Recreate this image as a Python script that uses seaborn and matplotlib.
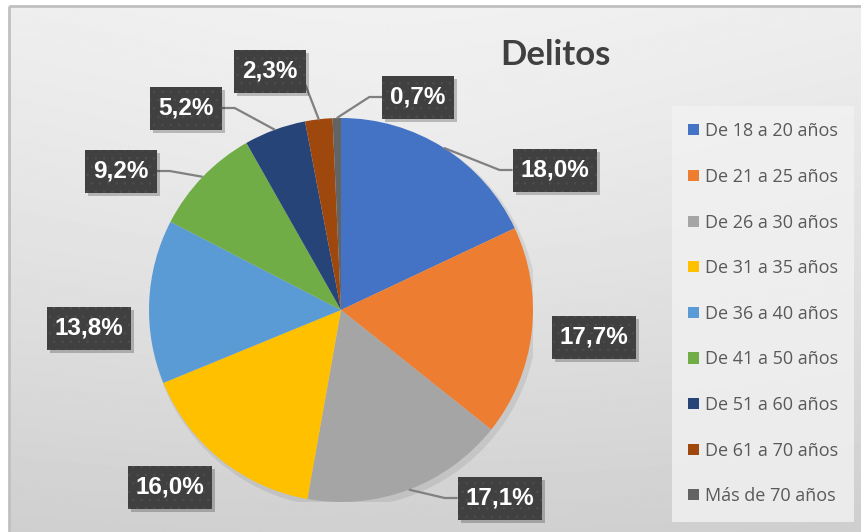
import numpy as np
import matplotlib
matplotlib.use("Agg")
import matplotlib.pyplot as plt
from matplotlib.patches import Rectangle, Circle
import seaborn as sns

categories = ["De 18 a 20 años", "De 21 a 25 años", "De 26 a 30 años",
              "De 31 a 35 años", "De 36 a 40 años", "De 41 a 50 años",
              "De 51 a 60 años", "De 61 a 70 años", "Más de 70 años"]
values = [18.0, 17.7, 17.1, 16.0, 13.8, 9.2, 5.2, 2.3, 0.7]
pct_labels = ["18,0%", "17,7%", "17,1%", "16,0%", "13,8%", "9,2%", "5,2%", "2,3%", "0,7%"]
colors = ["#4472C4", "#ED7D31", "#A5A5A5", "#FFC000", "#5B9BD5",
          "#70AD47", "#264478", "#9E480E", "#636363"]

# where the label boxes sit (pixel centres, y from top) - layout only
label_pos = [(555, 170), (594, 337), (500, 498), (170, 487), (89, 328),
             (121, 171), (186, 108), (270, 71), (418, 97)]

sns.set_style("white")
plt.rcParams['font.family'] = ['Lato', 'DejaVu Sans']
plt.rcParams['hatch.linewidth'] = 0.6

W, H = 862, 532
cx, cy, r = 341, 310, 192

fig = plt.figure(figsize=(W / 100, H / 100), dpi=100)

# background with soft gradient and thin frame
bg = fig.add_axes([0, 0, 1, 1], zorder=0)
bg.set_xlim(0, W)
bg.set_ylim(H, 0)
bg.axis('off')
yy, xx = np.mgrid[0:H, 0:W]
shade = 0.955 - 0.11 * (yy / H) - 0.04 * np.hypot((xx - 380) / W, (yy - 150) / H)
bg.imshow(shade, cmap='gray', vmin=0, vmax=1, extent=(9, W, H, 6), aspect='auto')
bg.add_patch(Rectangle((9, 6), W, H, fill=False, ec='#c0c0c0', lw=2))

# pie
ax = fig.add_axes([(cx - r) / W, (H - cy - r) / H, 2 * r / W, 2 * r / H], zorder=1)
ax.add_patch(Circle((0.015, -0.02), 1.01, color='k', alpha=0.08, lw=0))
wedges, _ = ax.pie(values, colors=colors, startangle=90, counterclock=False,
                   radius=1, wedgeprops=dict(linewidth=0))
ax.set_xlim(-1, 1)
ax.set_ylim(-1, 1)
ax.axis('off')

# overlay for title, labels, leader lines
ov = fig.add_axes([0, 0, 1, 1], zorder=3)
ov.set_xlim(0, W)
ov.set_ylim(H, 0)
ov.axis('off')
ov.patch.set_alpha(0)

ov.text(555, 55, "Delitos", ha='center', va='center', fontsize=25,
        fontweight='bold', color='#404040')

texts = []
for lab, (lx, ly) in zip(pct_labels, label_pos):
    t = ov.text(lx, ly, lab, ha='center', va='center', fontsize=17.5,
                fontweight='bold', color='white', zorder=5,
                family=['Liberation Sans', 'DejaVu Sans'])
    texts.append(t)

fig.canvas.draw()
renderer = fig.canvas.get_renderer()

for w, t in zip(wedges, texts):
    bb = t.get_window_extent(renderer)
    x0, x1 = bb.x0 - 8, bb.x1 + 8
    y0, y1 = H - bb.y1 - 10, H - bb.y0 + 10
    # dark box with faint dot texture and a soft drop shadow
    ov.add_patch(Rectangle((x0 + 3, y0 + 3), x1 - x0, y1 - y0, color='k',
                           alpha=0.22, lw=0, zorder=4.5))
    ov.add_patch(Rectangle((x0, y0), x1 - x0, y1 - y0, fc='#404040',
                           ec='#4d4d4d', lw=0, hatch='..', zorder=4.8))
    mid = np.deg2rad((w.theta1 + w.theta2) / 2)
    px, py = cx + r * np.cos(mid), cy - r * np.sin(mid)
    nx, ny = min(max(px, x0), x1), min(max(py, y0), y1)
    if np.hypot(px - nx, py - ny) < 22:
        continue
    ymid = (y0 + y1) / 2
    if py > y1 and abs(px - nx) < py - y1:
        ov.plot([x1, px], [y1 - 7, py], color='#808080', lw=1.6, zorder=4)
        continue
    if px < x0:
        sx, ex = x0, x0 - 13
    else:
        sx, ex = x1, x1 + 13
    ov.plot([sx, ex, px], [ymid, ymid, py], color='#808080', lw=1.6, zorder=4,
            solid_capstyle='butt')

leg = fig.legend(handles=wedges, labels=categories, loc='upper left',
                 bbox_to_anchor=(672 / W, 1 - 106 / H), frameon=True,
                 facecolor='#f2f2f2', edgecolor='none', framealpha=0.8,
                 fancybox=False, prop={'family': 'Open Sans', 'size': 13},
                 labelcolor='#595959',
                 handlelength=0.58, handleheight=0.58, handletextpad=0.35,
                 labelspacing=1.53, borderpad=0.9, borderaxespad=0)
leg.set_zorder(4)

fig.savefig("out.png", dpi=100)
